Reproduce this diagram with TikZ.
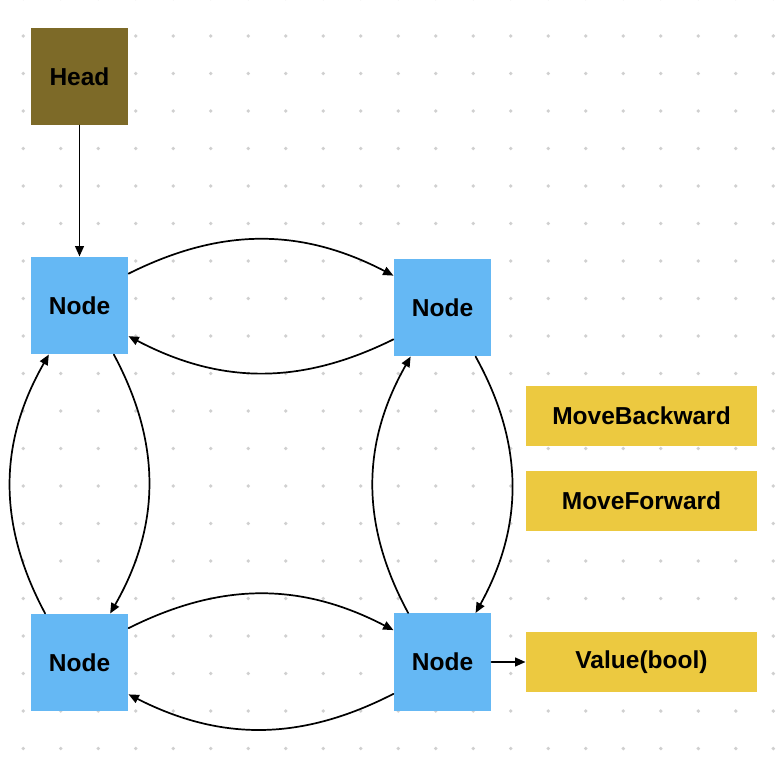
\documentclass[tikz,border=0pt]{standalone}
\usepackage{fontspec}
\setmainfont{Liberation Sans}
\usepackage{tikz}
\usetikzlibrary{arrows.meta}
\definecolor{headc}{RGB}{125,106,40}
\definecolor{nodec}{RGB}{101,184,244}
\definecolor{opc}{RGB}{236,201,64}
\definecolor{dotc}{RGB}{208,208,208}

\begin{document}
\begin{tikzpicture}[line cap=round,line join=round,>={Triangle[length=3.9pt,width=3.3pt]},x=0.5cm,y=0.5cm,
  box/.style={minimum width=1.294cm,minimum height=1.294cm,inner sep=0pt,font=\fontsize{9.3}{10}\selectfont\bfseries},
  listnode/.style={box,fill=nodec},
  headnode/.style={box,fill=headc},
  opnode/.style={box,fill=opc,minimum width=3.08cm,minimum height=0.8cm},
  link/.style={->,line width=0.65pt}]
\useasboundingbox (0,0) rectangle (20.747,-20.8);
\foreach \i in {0,...,20}
  \foreach \j in {0,...,20}
    \fill[dotc] (0.62+\i,0.04-\j) circle (0.75pt);
\node[headnode] (head) at (2.12,-2.04) {Head};
\node[listnode] (n1) at (2.12,-8.147) {Node};
\node[listnode] (n2) at (11.8,-8.2) {Node};
\node[listnode] (n3) at (2.12,-17.667) {Node};
\node[listnode] (n4) at (11.8,-17.653) {Node};
\node[opnode] (back) at (17.107,-11.093) {MoveBackward};
\node[opnode] (fwd) at (17.107,-13.36) {MoveForward};
\node[opnode] (val) at (17.107,-17.653) {Value(bool)};
\draw[link] (head) -- (n1);
\draw[link] (n1.33) to[bend left=27] (n2.147);
\draw[link] (n2.213) to[bend left=27] (n1.-32);
\draw[link] (n1.-55) to[bend left=29] (n3.58);
\draw[link] (n3.125) to[bend left=29] (n1.238);
\draw[link] (n2.-56) to[bend left=29] (n4.56);
\draw[link] (n4.125) to[bend left=29] (n2.237);
\draw[link] (n3.35) to[bend left=27] (n4.147);
\draw[link] (n4.213) to[bend left=27] (n3.-33);
\draw[link] (n4) -- (val);
\end{tikzpicture}
\end{document}
